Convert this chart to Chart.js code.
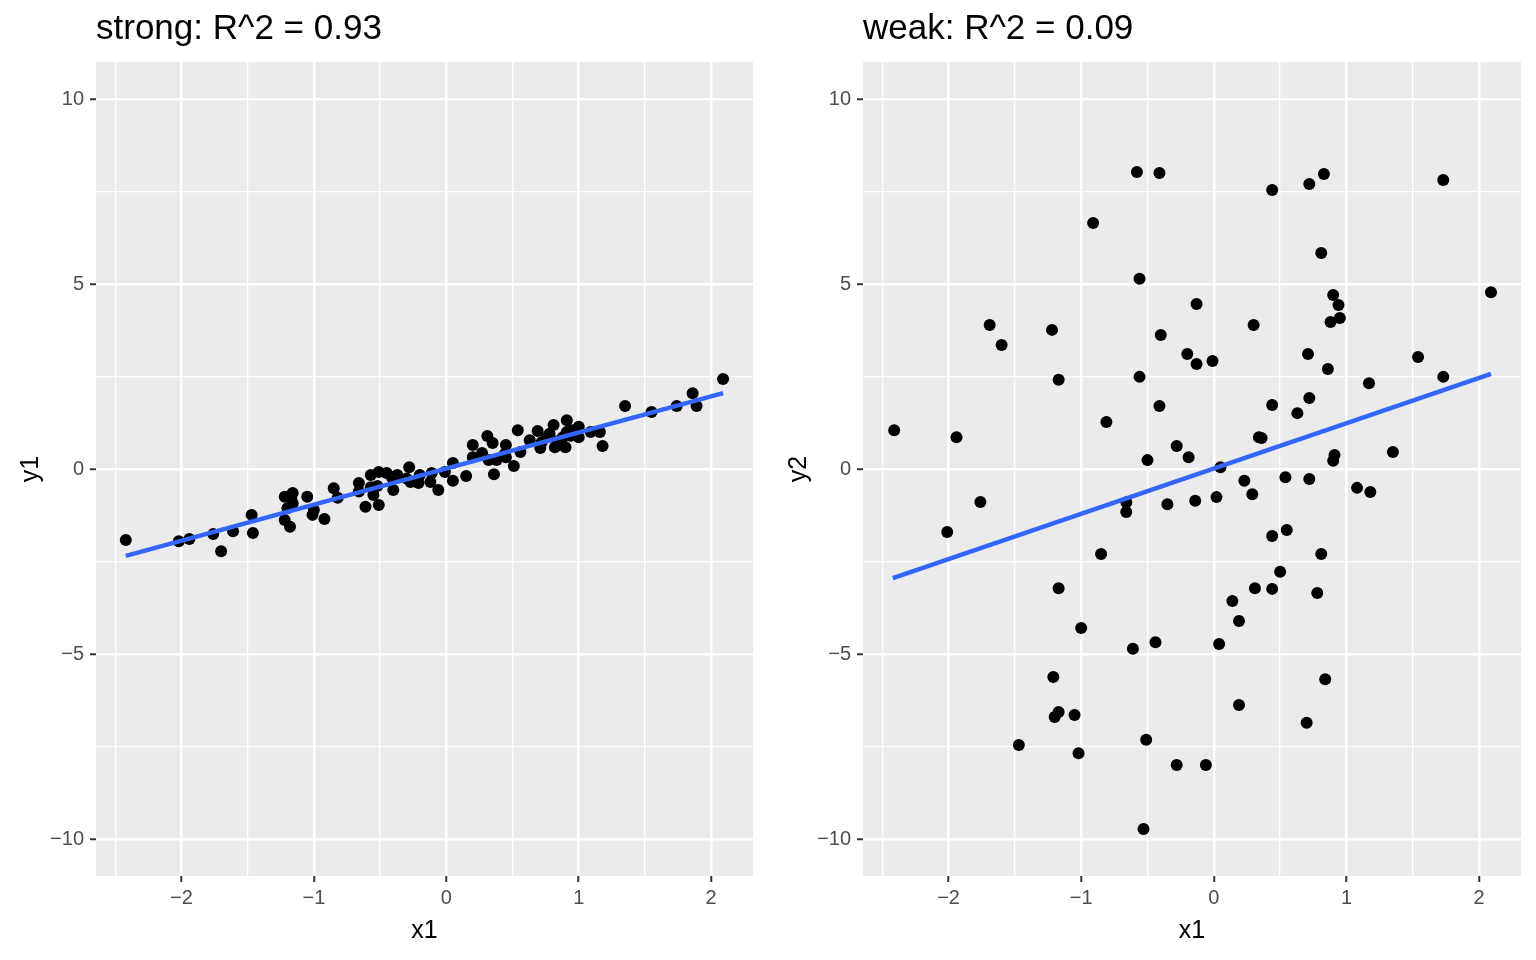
<!DOCTYPE html>
<html>
<head>
<meta charset="utf-8">
<title>strong vs weak</title>
<script src="https://cdn.jsdelivr.net/npm/chart.js@4"></script>
<style>
  body { margin: 0; background: #fff; }
  .panel { position: absolute; top: 0; width: 768px; height: 960px; }
</style>
</head>
<body>
<div class="panel" style="left:0"><canvas id="strongChart" width="768" height="960"></canvas></div>
<div class="panel" style="left:768px"><canvas id="weakChart" width="768" height="960"></canvas></div>
<script>
// valeurs
const strongX = [-2.42, -2.02, -1.94, -1.76, -1.70, -1.61, -1.47, -1.46, -1.22, -1.16,
  -1.20, -1.16, -1.22, -1.18, -1.05, -1.01, -1.00, -0.92, -0.85, -0.82,
  -0.66, -0.66, -0.61, -0.57, -0.51, -0.55, -0.51, -0.57, -0.52, -0.45,
  -0.40, -0.37, -0.28, -0.27, -0.20, -0.21, -0.11, -0.12, -0.06, -0.01,
  0.05, 0.05, 0.15, 0.20, 0.20, 0.27, 0.31, 0.35, 0.36, 0.32,
  0.38, 0.45, 0.45, 0.51, 0.54, 0.56, 0.63, 0.69, 0.71, 0.76,
  0.81, 0.82, 0.91, 0.90, 0.91, 0.88, 1.00, 1.00, 1.09, 1.16,
  1.18, 1.35, 1.55, 1.74, 1.86, 1.89, 2.09, 0.72, 0.78, 0.84,
  0.86, 0.94, 0.95, 0.44, -0.41, -1.17, -0.30];
const strongY = [-1.92, -1.95, -1.89, -1.76, -2.22, -1.68, -1.24, -1.73, -0.75, -0.65,
  -1.06, -0.93, -1.38, -1.56, -0.75, -1.24, -1.11, -1.35, -0.52, -0.78,
  -0.38, -0.61, -1.02, -0.16, -0.08, -0.70, -0.97, -0.49, -0.46, -0.11,
  -0.57, -0.16, 0.05, -0.35, -0.16, -0.38, -0.11, -0.35, -0.57, -0.08,
  0.16, -0.32, -0.19, 0.65, 0.32, 0.43, 0.89, 0.70, -0.14, 0.24,
  0.24, 0.65, 0.32, 0.08, 1.05, 0.46, 0.78, 1.03, 0.57, 0.86,
  1.19, 0.59, 1.32, 0.59, 1.00, 0.86, 1.14, 0.86, 1.00, 1.00,
  0.62, 1.70, 1.54, 1.70, 2.05, 1.70, 2.43, 0.72, 0.95, 0.75,
  0.66, 0.90, 1.05, 0.40, -0.22, -0.80, -0.26];

const weakX = [-2.41, -2.01, -1.94, -1.76, -1.69, -1.60, -1.47, -1.22, -1.21, -1.20,
  -1.17, -1.17, -1.17, -1.05, -1.02, -1.00, -0.91, -0.85, -0.81, -0.66,
  -0.66, -0.61, -0.58, -0.56, -0.56, -0.51, -0.53, -0.50, -0.44, -0.41,
  -0.40, -0.41, -0.35, -0.28, -0.28, -0.20, -0.19, -0.13, -0.13, -0.14,
  -0.06, -0.01, 0.02, 0.04, 0.05, 0.14, 0.19, 0.19, 0.23, 0.29,
  0.30, 0.31, 0.34, 0.36, 0.44, 0.44, 0.44, 0.44, 0.50, 0.54,
  0.55, 0.63, 0.70, 0.71, 0.72, 0.72, 0.72, 0.78, 0.81, 0.81,
  0.83, 0.84, 0.86, 0.88, 0.90, 0.91, 0.90, 0.94, 0.95, 1.08,
  1.17, 1.18, 1.35, 1.54, 1.73, 1.73, 2.09];
const weakY = [1.05, -1.70, 0.86, -0.89, 3.89, 3.35, -7.46, 3.76, -5.62, -6.70,
  2.41, -3.22, -6.57, -6.65, -7.68, -4.30, 6.65, -2.30, 1.27, -1.16,
  -0.90, -4.86, 8.03, 5.14, 2.49, -7.32, -9.73, 0.24, -4.68, 8.00,
  3.62, 1.70, -0.95, 0.62, -8.00, 3.11, 0.32, 4.46, 2.84, -0.86,
  -8.00, 2.92, -0.76, -4.73, 0.05, -3.57, -4.11, -6.38, -0.32, -0.68,
  3.89, -3.22, 0.86, 0.84, 1.73, 7.54, -1.81, -3.24, -2.78, -0.22,
  -1.65, 1.51, -6.86, 3.11, -0.27, 1.92, 7.70, -3.35, -2.30, 5.84,
  7.97, -5.68, 2.70, 3.97, 0.22, 0.38, 4.70, 4.43, 4.08, -0.51,
  2.32, -0.62, 0.46, 3.03, 7.81, 2.49, 4.78];

// droites de régression (extrémités lues)
const fitX = [-2.42, 2.09];
const strongFit = [-2.35, 2.05];
const weakFit = [-2.95, 2.57];

const xMajor = [-2, -1, 0, 1, 2];
const xMinor = [-2.5, -1.5, -0.5, 0.5, 1.5];
const yMajor = [-10, -5, 0, 5, 10];
const yMinor = [-7.5, -2.5, 2.5, 7.5];

const FONT = '"Liberation Sans", Arial, Helvetica, sans-serif';

const panelBg = {
    id: 'panelBg',
    beforeDraw(chart) {
        const a = chart.chartArea;
        const ctx = chart.ctx;
        ctx.save();
        ctx.fillStyle = '#EBEBEB';
        ctx.fillRect(a.left, a.top, a.right - a.left, a.bottom - a.top);
        ctx.restore();
    }
};

const panelTitle = {
    id: 'panelTitle',
    afterDraw(chart, args, opts) {
        const ctx = chart.ctx;
        ctx.save();
        ctx.fillStyle = '#000';
        ctx.font = '35px ' + FONT;
        ctx.textBaseline = 'alphabetic';
        ctx.textAlign = 'left';
        ctx.fillText(opts.text, chart.chartArea.left, 39);
        ctx.restore();
    }
};

function isMajor(list, v) {
    return list.some(m => Math.abs(m - v) < 1e-9);
}

function tickText(v) {
    return v < 0 ? '\u2212' + Math.abs(v) : String(v);
}

function makePanel(id, title, xs, ys, fit, yName, yWidth) {
    const points = xs.map((x, i) => ({x: x, y: ys[i]}));
    const line = fitX.map((x, i) => ({x: x, y: fit[i]}));
    new Chart(document.getElementById(id).getContext('2d'), {
        type: 'scatter',
        data: {
            datasets: [{
                data: line,
                showLine: true,
                borderColor: '#3366FF',
                borderWidth: 4.4,
                pointRadius: 0
            }, {
                data: points,
                pointRadius: 6,
                pointBorderWidth: 0,
                pointBackgroundColor: '#000000'
            }]
        },
        options: {
            responsive: false,
            animation: false,
            layout: { padding: { top: 62, right: 15, bottom: 0, left: 0 } },
            plugins: {
                legend: { display: false },
                tooltip: { enabled: false },
                panelTitle: { text: title }
            },
            scales: {
                x: {
                    type: 'linear',
                    min: -2.645,
                    max: 2.316,
                    afterBuildTicks: s => { s.ticks = xMinor.concat(xMajor).sort((a, b) => a - b).map(v => ({value: v})); },
                    afterFit: s => { s.height = 84; },
                    border: { display: false },
                    grid: {
                        color: '#FFFFFF',
                        lineWidth: c => isMajor(xMajor, c.tick.value) ? 2.5 : 1.3,
                        tickLength: 6,
                        tickWidth: 2,
                        tickColor: c => isMajor(xMajor, c.tick.value) ? '#333333' : 'rgba(0,0,0,0)'
                    },
                    ticks: {
                        color: '#4D4D4D',
                        font: { family: FONT, size: 20 },
                        padding: 4,
                        maxRotation: 0,
                        autoSkip: false,
                        callback: v => isMajor(xMajor, v) ? tickText(v) : ''
                    },
                    title: {
                        display: true,
                        text: 'x1',
                        color: '#000',
                        font: { family: FONT, size: 25 },
                        padding: { top: 0, bottom: 14 }
                    }
                },
                y: {
                    type: 'linear',
                    min: -11,
                    max: 11,
                    afterBuildTicks: s => { s.ticks = yMinor.concat(yMajor).sort((a, b) => a - b).map(v => ({value: v})); },
                    afterFit: s => { s.width = yWidth; },
                    border: { display: false },
                    grid: {
                        color: '#FFFFFF',
                        lineWidth: c => isMajor(yMajor, c.tick.value) ? 2.5 : 1.3,
                        tickLength: 6,
                        tickWidth: 2,
                        tickColor: c => isMajor(yMajor, c.tick.value) ? '#333333' : 'rgba(0,0,0,0)'
                    },
                    ticks: {
                        color: '#4D4D4D',
                        font: { family: FONT, size: 20 },
                        padding: 6,
                        autoSkip: false,
                        callback: v => isMajor(yMajor, v) ? tickText(v) : ''
                    },
                    title: {
                        display: true,
                        text: yName,
                        color: '#000',
                        font: { family: FONT, size: 25 },
                        padding: { top: 16, bottom: 0 }
                    }
                }
            }
        },
        plugins: [panelBg, panelTitle]
    });
}

makePanel('strongChart', 'strong: R^2 = 0.93', strongX, strongY, strongFit, 'y1', 96);
makePanel('weakChart', 'weak: R^2 = 0.09', weakX, weakY, weakFit, 'y2', 95);
</script>
</body>
</html>
